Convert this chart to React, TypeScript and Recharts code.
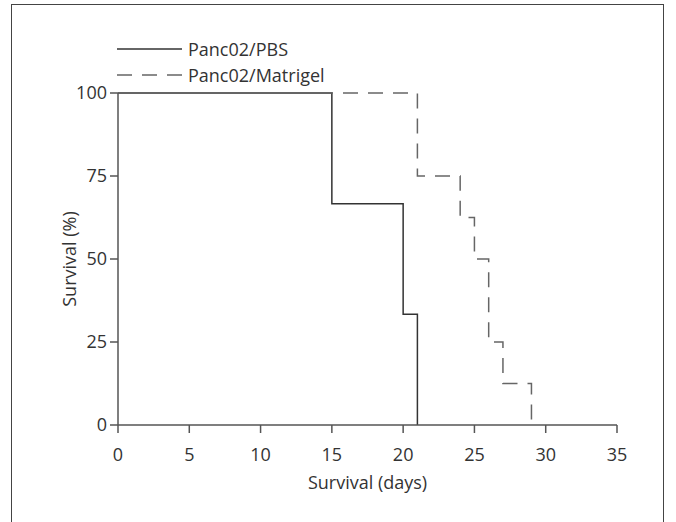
import React from "react";
import { LineChart, Line, XAxis, YAxis, Legend } from "recharts";

const seriesNames = ["Panc02/PBS", "Panc02/Matrigel"];
const pbsDays = [0, 15, 20, 21];
const pbsSurvival = [100, 66.67, 33.33, 0];
const matrigelDays = [0, 21, 24, 25, 26, 27, 29];
const matrigelSurvival = [100, 75, 62.5, 50, 25, 12.5, 0];
const xTicks = [0, 5, 10, 15, 20, 25, 30, 35];
const yTicks = [0, 25, 50, 75, 100];

const pbsData = pbsDays.map((d, i) => ({ day: d, pbs: pbsSurvival[i] }));
const matrigelData = matrigelDays.map((d, i) => ({ day: d, matrigel: matrigelSurvival[i] }));

const FONT = "'Open Sans', sans-serif";
const TEXT = "#333";
const AXIS = "#555";

const LegendContent = (props: any) => {
  const payload = [...(props.payload || [])].sort(
    (a: any, b: any) => seriesNames.indexOf(a.value) - seriesNames.indexOf(b.value)
  );
  return (
    <div style={{ fontFamily: FONT, fontSize: 18, color: TEXT }}>
      {payload.map((p: any) => (
        <div key={p.value} style={{ display: "flex", alignItems: "center", height: 26 }}>
          <svg width={71} height={26} style={{ display: "block" }}>
            <line
              x1={0}
              y1={13}
              x2={65}
              y2={13}
              stroke={p.color}
              strokeWidth={1.5}
              strokeDasharray={p.payload?.strokeDasharray}
            />
          </svg>
          <span style={{ lineHeight: "26px" }}>{p.value}</span>
        </div>
      ))}
    </div>
  );
};

export default function App() {
  return (
    <div style={{ position: "fixed", left: 0, top: 0, width: 676, height: 522, overflow: "hidden", background: "#fff" }}>
      <div
        style={{
          position: "absolute",
          left: 11,
          top: 4,
          width: 653,
          height: 600,
          border: "1.5px solid #444",
          boxSizing: "border-box",
        }}
      />
      <div style={{ position: "absolute", left: 0, top: 0 }}>
        <LineChart width={676} height={522} margin={{ top: 93, right: 59, left: 22, bottom: 33 }}>
          <XAxis
            dataKey="day"
            type="number"
            domain={[0, 35]}
            ticks={xTicks}
            allowDuplicatedCategory={false}
            stroke={AXIS}
            strokeWidth={1.5}
            tickSize={8}
            tickMargin={15}
            height={64}
            tick={{ fill: TEXT, fontSize: 18, fontFamily: FONT }}
            tickLine={{ stroke: AXIS, strokeWidth: 1.5 }}
            label={{ value: "Survival (days)", position: "insideBottom", offset: 0, fill: TEXT, fontSize: 18, fontFamily: FONT }}
          />
          <YAxis
            type="number"
            domain={[0, 100]}
            ticks={yTicks}
            stroke={AXIS}
            strokeWidth={1.5}
            tickSize={8}
            tickMargin={3}
            width={96}
            tick={{ fill: TEXT, fontSize: 18, fontFamily: FONT }}
            tickLine={{ stroke: AXIS, strokeWidth: 1.5 }}
            label={{ value: "Survival (%)", angle: -90, position: "center", fill: TEXT, fontSize: 18, fontFamily: FONT }}
          />
          <Legend
            layout="vertical"
            align="center"
            verticalAlign="middle"
            wrapperStyle={{ left: 117, top: 36, width: 300 }}
            content={LegendContent}
          />
          <Line
            data={pbsData}
            dataKey="pbs"
            name={seriesNames[0]}
            type="stepAfter"
            stroke="#333"
            strokeWidth={1.5}
            dot={false}
            activeDot={false}
            isAnimationActive={false}
          />
          <Line
            data={matrigelData}
            dataKey="matrigel"
            name={seriesNames[1]}
            type="stepAfter"
            stroke="#666"
            strokeWidth={1.5}
            strokeDasharray="15 10"
            dot={false}
            activeDot={false}
            isAnimationActive={false}
          />
        </LineChart>
      </div>
    </div>
  );
}
